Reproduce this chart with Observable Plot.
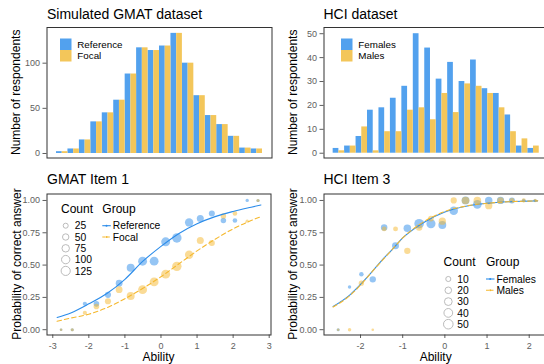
<!DOCTYPE html>
<html><head><meta charset="utf-8">
<script src="https://cdn.jsdelivr.net/npm/d3@7"></script>
<script src="https://cdn.jsdelivr.net/npm/@observablehq/plot@0.6"></script>
<style>
body{margin:0;background:#fff;}
#fig{position:relative;width:544px;height:364px;overflow:hidden;background:#fff;font-family:"Liberation Sans",Arial,sans-serif;}
#fig svg{position:absolute;}
</style></head>
<body><div id="fig"></div>
<script>
// ---------- data ----------
const gmatGroups = ["Reference", "Focal"];
const hciGroups = ["Females", "Males"];

// histogram counts per ability bin (18 bins)
const gmatReferenceCounts = [2, 5, 15, 35, 45, 59, 88, 117, 114, 119, 133, 100, 64, 42, 32, 19, 6, 5];
const gmatFocalCounts     = [2, 5, 15, 35, 45, 59, 88, 117, 114, 119, 133, 100, 64, 42, 32, 19, 6, 5];
const hciFemaleCounts = [2, 3, 7, 18, 19, 23, 28, 50, 44, 31, 38, 30, 39, 27, 25, 16, 3, 2];
const hciMaleCounts   = [1, 3, 11, 1, 9, 9, 18, 19, 14, 25, 17, 29, 28, 25, 19, 9, 6, 3];

// bin centres (ability) and observed proportions correct
const gmatAbility = [-2.77, -2.46, -2.11, -1.79, -1.47, -1.16, -0.84, -0.51, -0.19, 0.13, 0.44, 0.78, 1.09, 1.41, 1.73, 2.05, 2.39, 2.69];
const gmatReferenceProp = [0, 0, 0.20, 0.20, 0.27, 0.36, 0.48, 0.53, 0.53, 0.68, 0.71, 0.83, 0.86, 0.90, 0.845, 0.845, 1, 1];
const gmatFocalProp     = [0, 0, 0.13, 0.18, 0.22, 0.31, 0.26, 0.31, 0.37, 0.43, 0.49, 0.58, 0.69, 0.67, 0.88, 0.90, 0.84, 1];

const hciAbility = [-2.53, -2.26, -1.98, -1.71, -1.44, -1.17, -0.89, -0.61, -0.33, -0.06, 0.21, 0.49, 0.77, 1.04, 1.32, 1.59, 1.87, 2.14];
const hciFemaleProp = [0, 0.33, 0.43, 0.39, 0.79, 0.65, 0.785, 0.82, 0.82, 0.81, 0.92, 1, 0.97, 1, 1, 1, 1, 1];
const hciMaleProp   = [0, 0, 0.36, 0, 0.78, 0.78, 0.61, 0.79, 0.86, 0.84, 1, 1, 1, 0.96, 1, 1, 1, 1];

// fitted curves
const gmatCurveX = [-2.88, -2.5, -2, -1.5, -1, -0.5, 0, 0.5, 1, 1.5, 2, 2.5, 2.77];
const gmatReferenceCurveY = [0.095, 0.13, 0.20, 0.28, 0.39, 0.53, 0.645, 0.745, 0.82, 0.875, 0.915, 0.948, 0.965];
const gmatFocalCurveY     = [0.065, 0.09, 0.12, 0.17, 0.24, 0.32, 0.41, 0.51, 0.61, 0.70, 0.78, 0.845, 0.875];
const hciCurveX = [-2.65, -2.25, -2, -1.75, -1.5, -1.25, -1, -0.5, 0, 0.5, 1, 1.5, 2, 2.2];
const hciFemaleCurveY = [0.18, 0.27, 0.35, 0.44, 0.535, 0.62, 0.71, 0.83, 0.91, 0.955, 0.978, 0.99, 0.995, 0.997];
const hciMaleCurveY   = [0.175, 0.265, 0.345, 0.44, 0.53, 0.62, 0.71, 0.835, 0.915, 0.957, 0.978, 0.99, 0.995, 0.997];

// tick labels / legend values
const gmatCountTicks = [0, 50, 100];
const hciCountTicks = [0, 10, 20, 30, 40, 50];
const probTicks = [0, 0.25, 0.5, 0.75, 1];
const gmatAbilityTicks = [-3, -2, -1, 0, 1, 2, 3];
const hciAbilityTicks = [-2, -1, 0, 1, 2];
const gmatSizeLegend = [25, 50, 75, 100, 125];
const hciSizeLegend = [10, 20, 30, 40, 50];

const titles = ["Simulated GMAT dataset", "HCI dataset", "GMAT Item 1", "HCI Item 3"];
const histYTitle = "Number of respondents";
const curveYTitle = "Probability of correct answer";
const curveXTitle = "Ability";
const sizeLegendTitle = "Count";
const groupLegendTitle = "Group";

// ---------- styles ----------
const blue = "#2b8cea", yellow = "#f5b82e";
const barBlue = "#52a1ee", barYellow = "#f3c65a";
const font = "Liberation Sans, Arial, sans-serif";
const axisStyle = {fontSize: "9px", fontFamily: font, color: "#5e5e5e", background: "transparent", overflow: "visible"};
const fig = document.getElementById("fig");

function place(svg, left, top) {
  svg.style.left = left + "px";
  svg.style.top = top + "px";
  fig.appendChild(svg);
}

function histogram({c1, c2, groups, yDomain, yTicks, xDomain, width, mL, mR}) {
  const rows = [];
  c1.forEach((c, i) => rows.push({bin: i, half: 0, group: groups[0], count: c}));
  c2.forEach((c, i) => rows.push({bin: i, half: 1, group: groups[1], count: c}));
  return Plot.plot({
    width, height: 165, marginLeft: mL, marginRight: mR, marginTop: 27, marginBottom: 7.5,
    style: axisStyle,
    x: {domain: xDomain, axis: null},
    y: {domain: yDomain, ticks: yTicks, tickSize: 4, tickPadding: 3, label: null, tickFormat: d => String(d)},
    color: {domain: groups, range: [barBlue, barYellow]},
    marks: [
      Plot.rectY(rows, {x1: d => d.bin + d.half * 0.5, x2: d => d.bin + d.half * 0.5 + 0.5, y1: 0, y2: "count", fill: "group"}),
      Plot.frame({stroke: "#333"})
    ]
  });
}

function itemPlot({ability, p1, p2, n1, n2, groups, cx, cy1, cy2, xDomain, xTicks, rScale, width, mL, mR}) {
  const pts = [];
  ability.forEach((a, i) => pts.push({ability: a, prop: p1[i], count: n1[i], group: groups[0]}));
  ability.forEach((a, i) => pts.push({ability: a, prop: p2[i], count: n2[i], group: groups[1]}));
  const l1 = cx.map((x, i) => ({x, y: cy1[i]}));
  const l2 = cx.map((x, i) => ({x, y: cy2[i]}));
  return Plot.plot({
    width, height: 190, marginLeft: mL, marginRight: mR, marginTop: 23.5, marginBottom: 25.5,
    style: axisStyle,
    x: {domain: xDomain, ticks: xTicks, tickSize: 3.5, tickPadding: 4.5, label: null, tickFormat: d => String(d)},
    y: {domain: [-0.041, 1.05], ticks: probTicks, tickSize: 4, tickPadding: 3, label: null, tickFormat: d3.format(".2f")},
    color: {domain: groups, range: [blue, yellow]},
    r: rScale,
    marks: [
      Plot.dot(pts, {x: "ability", y: "prop", r: "count", fill: "group", fillOpacity: 0.5, sort: null}),
      Plot.line(l1, {x: "x", y: "y", stroke: blue, strokeWidth: 1.1, curve: "monotone-x"}),
      Plot.line(l2, {x: "x", y: "y", stroke: yellow, strokeWidth: 1.1, strokeDasharray: "4.5,3", curve: "monotone-x"}),
      Plot.frame({stroke: "#333"})
    ]
  });
}

const gmatR = {type: "pow", exponent: 0.5, domain: [2, 133], range: [1.3, 4.7]};
const hciR = {type: "pow", exponent: 0.5, domain: [1, 50], range: [1.3, 4.8]};

place(histogram({c1: gmatReferenceCounts, c2: gmatFocalCounts, groups: gmatGroups, yDomain: [-5, 139.5], yTicks: gmatCountTicks,
  xDomain: [-0.83, 18.83], width: 280, mL: 46.5, mR: 8.5}), 0, 0);
place(histogram({c1: hciFemaleCounts, c2: hciMaleCounts, groups: hciGroups, yDomain: [-2, 52.6], yTicks: hciCountTicks,
  xDomain: [-0.8, 18.8], width: 280, mL: 51.5, mR: 4.1}), 272, 0);
place(itemPlot({ability: gmatAbility, p1: gmatReferenceProp, p2: gmatFocalProp, n1: gmatReferenceCounts, n2: gmatFocalCounts,
  groups: gmatGroups, cx: gmatCurveX, cy1: gmatReferenceCurveY, cy2: gmatFocalCurveY, xDomain: [-3.16, 3.05], xTicks: gmatAbilityTicks,
  rScale: gmatR, width: 280, mL: 46.5, mR: 9.5}), 0, 170);
place(itemPlot({ability: hciAbility, p1: hciFemaleProp, p2: hciMaleProp, n1: hciFemaleCounts, n2: hciMaleCounts,
  groups: hciGroups, cx: hciCurveX, cy1: hciFemaleCurveY, cy2: hciMaleCurveY, xDomain: [-2.866, 2.455], xTicks: hciAbilityTicks,
  rScale: hciR, width: 280, mL: 51.5, mR: 4.1}), 272, 170);

// ---------- overlay: titles, axis titles, legends ----------
const svg = d3.select(fig).append("svg").attr("width", 544).attr("height", 364)
  .style("left", "0px").style("top", "0px").style("font-family", font);
function txt(x, y, s, size, opts = {}) {
  const t = svg.append("text").attr("x", x).attr("y", y).attr("font-size", size).attr("fill", opts.fill || "#000").text(s);
  if (opts.anchor) t.attr("text-anchor", opts.anchor);
  if (opts.rotate) t.attr("transform", `rotate(-90 ${x} ${y})`);
  return t;
}
txt(47, 18.5, titles[0], 14);
txt(323.5, 18.5, titles[1], 14);
txt(47, 184.3, titles[2], 14);
txt(323.5, 184.3, titles[3], 14);
txt(20.5, 92.3, histYTitle, 12, {anchor: "middle", rotate: true});
txt(297, 92.3, histYTitle, 12, {anchor: "middle", rotate: true});
txt(20.5, 264, curveYTitle, 12, {anchor: "middle", rotate: true});
txt(297, 264, curveYTitle, 12, {anchor: "middle", rotate: true});
txt(158.5, 361, curveXTitle, 12, {anchor: "middle"});
txt(435.7, 361, curveXTitle, 12, {anchor: "middle"});

// histogram fill legends
function fillLegend(x, groups) {
  [barBlue, barYellow].forEach((c, i) => {
    svg.append("rect").attr("x", x).attr("y", 38.5 + i * 11.5).attr("width", 11.5).attr("height", 11.5).attr("fill", c);
    txt(x + 17.3, 48.2 + i * 11.1, groups[i], 9.8);
  });
}
fillLegend(60, gmatGroups);
fillLegend(341, hciGroups);

// size + group legends
function itemLegend(x0, y0, gx, values, rOpt, groups) {
  const rs = d3.scalePow().exponent(rOpt.exponent).domain(rOpt.domain).range(rOpt.range);
  txt(x0 - 4.7, y0 - 13, sizeLegendTitle, 12);
  txt(gx, y0 - 13, groupLegendTitle, 12);
  values.forEach((v, i) => {
    const y = y0 + i * 11.3;
    svg.append("circle").attr("cx", x0).attr("cy", y).attr("r", rs(v)).attr("fill", "none").attr("stroke", "#b3b3b3").attr("stroke-width", 0.9);
    txt(x0 + 9, y + 3.6, String(v), 10.3);
  });
  [blue, yellow].forEach((c, i) => {
    const y = y0 + i * 11.3;
    const ln = svg.append("line").attr("x1", gx).attr("x2", gx + 8.5).attr("y1", y).attr("y2", y).attr("stroke", c).attr("stroke-width", 1.1);
    if (i === 1) ln.attr("stroke-dasharray", "3,1.5");
    svg.append("circle").attr("cx", gx + 4.2).attr("cy", y).attr("r", 1).attr("fill", c);
    txt(gx + 10.5, y + 3.6, groups[i], 10.3);
  });
}
itemLegend(65.7, 225.7, 102.3, gmatSizeLegend, gmatR, gmatGroups);
itemLegend(448.3, 279, 486, hciSizeLegend, hciR, hciGroups);
</script>
</body></html>
